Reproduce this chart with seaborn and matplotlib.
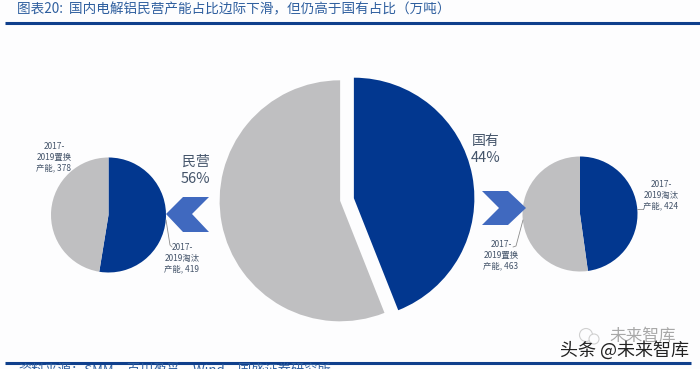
import matplotlib
matplotlib.use("Agg")
import matplotlib.pyplot as plt
from matplotlib.patches import Polygon, Circle
import seaborn as sns

BLUE = "#02378f"
GREY = "#bfbfc1"
ARROW = "#4069bf"
TXT = "#44546a"

main_labels = ["国有", "民营"]
main_share = [44, 56]
left_values = [419, 378]
right_values = [424, 463]
title = "图表20:  国内电解铝民营产能占比边际下滑，但仍高于国有占比（万吨）"
source = "资料来源：SMM，百川盈孚，Wind，国盛证券研究所"

sns.set_theme(style="white")
plt.rcParams["font.family"] = ["Noto Sans CJK SC", "DejaVu Sans"]

W, H = 700, 369
fig = plt.figure(figsize=(7, 3.69), dpi=100, facecolor="#fdfdfe")
ax = fig.add_axes([0, 0, 1, 1])
ax.set_facecolor("#fdfdfe")
Y = lambda y: H - y
colors = sns.color_palette([BLUE, GREY])


def pie(vals, cx, cy, r, explode=None):
    ax.pie(vals, colors=colors, startangle=90, counterclock=False, center=(cx, Y(cy)),
           radius=r, explode=explode, frame=True, wedgeprops={"linewidth": 0})


# explode is in axes units here, which are pixels
pie(main_share, 347, 199.5, 120.5, explode=(7, 7))
pie(left_values, 108.5, 215, 57.5)
pie(right_values, 580, 214, 57.5)

ax.set_xlim(0, W)
ax.set_ylim(0, H)
ax.set_aspect("equal")
ax.axis("off")

# rules
ax.plot([5, 700], [Y(22.5), Y(22.5)], color="#0f3f8c", lw=2.2, solid_capstyle="butt")
ax.plot([5, 691], [Y(363), Y(363)], color="#0f3f8c", lw=2.2, solid_capstyle="butt")

# title and source
ax.text(17, Y(9), title, fontsize=9.8, color="#2f5f9f", va="center", ha="left")
ax.text(18, Y(371), source, fontsize=9.5, color="#2f5f9f", va="center", ha="left", clip_on=False)

# arrows
ax.add_patch(Polygon([(209, Y(197)), (183, Y(197)), (166, Y(214)), (183, Y(232)), (209, Y(232)), (192, Y(214))],
                     closed=True, fc=ARROW, ec="none"))
ax.add_patch(Polygon([(482, Y(191)), (508, Y(191)), (526, Y(208)), (508, Y(225)), (482, Y(225)), (499, Y(208))],
                     closed=True, fc=ARROW, ec="none"))

# main labels
ax.text(196, Y(162), main_labels[1], fontsize=10, color=TXT, ha="center", va="center")
ax.text(195, Y(179), f"{main_share[1]}%", fontsize=10.5, color=TXT, ha="center", va="center")
ax.text(485.5, Y(141), main_labels[0], fontsize=10, color=TXT, ha="center", va="center")
ax.text(485.5, Y(158), f"{main_share[0]}%", fontsize=10.5, color=TXT, ha="center", va="center")

small = dict(fontsize=6, color=TXT, ha="center", va="center", linespacing=1.25)
ax.text(54, Y(157), f"2017-\n2019置换\n产能, {left_values[1]}", **small)
ax.text(182, Y(258), f"2017-\n2019淘汰\n产能, {left_values[0]}", **small)
ax.text(661, Y(195), f"2017-\n2019淘汰\n产能, {right_values[0]}", **small)
ax.text(501, Y(255), f"2017-\n2019置换\n产能, {right_values[1]}", **small)

# leader lines
ax.plot([166, 170, 172], [Y(220), Y(245), Y(247)], color="#8c8c8c", lw=0.6)
ax.plot([637, 643], [Y(209), Y(209)], color="#8c8c8c", lw=0.6)
ax.plot([523, 516, 513], [Y(220), Y(246), Y(247)], color="#8c8c8c", lw=0.6)

# watermark
ax.add_patch(Circle((586, Y(335)), 6.5, fc="none", ec="#d0d0d0", lw=0.8))
ax.add_patch(Circle((594, Y(339)), 5, fc="#fdfdfe", ec="#d0d0d0", lw=0.8))
ax.text(642.5, Y(336), "未来智库", fontsize=12, color="#a8a8a8", ha="center", va="center")
ax.text(625, Y(350), "头条 @未来智库", fontsize=13, color="#222222", ha="center", va="center", zorder=5)

fig.savefig("out.png", dpi=100, facecolor=fig.get_facecolor())
